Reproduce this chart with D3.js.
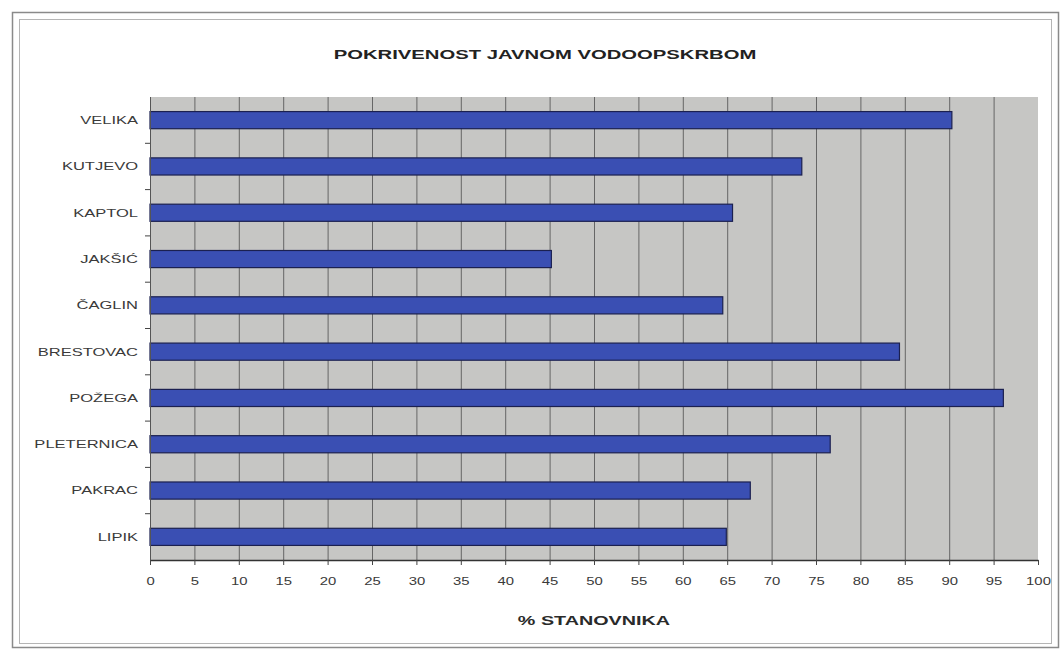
<!DOCTYPE html>
<html>
<head>
<meta charset="utf-8">
<script src="https://cdn.jsdelivr.net/npm/d3@7"></script>
<style>
  html, body { margin: 0; padding: 0; background: #fff; }
  svg { display: block; }
  text { font-family: "Liberation Sans", Arial, sans-serif; }
</style>
</head>
<body>
<svg id="chart" width="1062" height="650"></svg>
<script>
// Coverage of the public water supply per municipality (% of inhabitants)
const categories = ["VELIKA", "KUTJEVO", "KAPTOL", "JAKŠIĆ", "ČAGLIN", "BRESTOVAC", "POŽEGA", "PLETERNICA", "PAKRAC", "LIPIK"];
const values = [90.3, 73.4, 65.6, 45.2, 64.5, 84.4, 96.1, 76.6, 67.6, 64.9];
const xTicks = d3.range(0, 101, 5);
const titleText = "POKRIVENOST JAVNOM VODOOPSKRBOM";
const xAxisTitle = "% STANOVNIKA";

const W = 1062, H = 650;
const plot = { left: 150, right: 1038, top: 97, bottom: 560 };
const stretch = 1.5; // wide lettering of the printed chart

const svg = d3.select("#chart");

// helper: widen a text element horizontally while keeping it real text
function widen(sel, k) {
  sel.each(function () {
    const len = this.getComputedTextLength();
    d3.select(this).attr("textLength", len * k).attr("lengthAdjust", "spacingAndGlyphs");
  });
}

// double frame around the chart
svg.append("rect").attr("x", 12.5).attr("y", 12.5).attr("width", 1046).attr("height", 635)
  .attr("fill", "none").attr("stroke", "#8a8a8a").attr("stroke-width", 1.5);
svg.append("rect").attr("x", 19.5).attr("y", 19.5).attr("width", 1032).attr("height", 624)
  .attr("fill", "none").attr("stroke", "#b5b5b5").attr("stroke-width", 1);

const x = d3.scaleLinear().domain([0, 100]).range([plot.left, plot.right]);
const y = d3.scaleBand().domain(categories).range([plot.top, plot.bottom]).paddingInner(0.63).paddingOuter(0.315);
const yBand = d3.scaleBand().domain(categories).range([plot.top, plot.bottom]);

// plot background
svg.append("rect")
  .attr("x", plot.left).attr("y", plot.top)
  .attr("width", plot.right - plot.left).attr("height", plot.bottom - plot.top)
  .attr("fill", "#c6c6c4");

// vertical gridlines
svg.append("g").selectAll("line").data(xTicks.slice(1, -1)).join("line")
  .attr("x1", d => x(d) + 0.5).attr("x2", d => x(d) + 0.5)
  .attr("y1", plot.top).attr("y2", plot.bottom)
  .attr("stroke", "#666").attr("stroke-width", 1);

// bars
svg.append("g").selectAll("rect").data(categories).join("rect")
  .attr("x", x(0))
  .attr("y", d => y(d))
  .attr("width", (d, i) => x(values[i]) - x(0))
  .attr("height", y.bandwidth())
  .attr("fill", "#3a4fb3")
  .attr("stroke", "#1b2050")
  .attr("stroke-width", 1.2);

// x axis
const xAxis = svg.append("g")
  .attr("transform", `translate(0,${plot.bottom})`)
  .call(d3.axisBottom(x).tickValues(xTicks).tickSize(5).tickPadding(12).tickSizeOuter(0));
xAxis.select(".domain").attr("stroke", "#333").attr("stroke-width", 1.5);
xAxis.selectAll(".tick line").attr("stroke", "#444");
xAxis.selectAll(".tick text")
  .attr("font-family", "'Liberation Sans', Arial, sans-serif")
  .attr("font-size", 11).attr("fill", "#3a3a3a");
widen(xAxis.selectAll(".tick text"), 1.35);

// y axis: band-boundary ticks and category labels
const yAxisG = svg.append("g");
yAxisG.append("line")
  .attr("x1", plot.left + 0.5).attr("x2", plot.left + 0.5)
  .attr("y1", plot.top).attr("y2", plot.bottom)
  .attr("stroke", "#555").attr("stroke-width", 1);
yAxisG.selectAll("line.b").data(categories.slice(1)).join("line").attr("class", "b")
  .attr("x1", plot.left - 5).attr("x2", plot.left)
  .attr("y1", d => yBand(d)).attr("y2", d => yBand(d))
  .attr("stroke", "#444");
const yLabels = yAxisG.selectAll("text").data(categories).join("text")
  .attr("x", 138)
  .attr("y", d => yBand(d) + yBand.bandwidth() / 2)
  .attr("dy", "0.35em")
  .attr("text-anchor", "end")
  .attr("font-size", 11)
  .attr("fill", "#3a3a3a")
  .text(d => d);
widen(yLabels, stretch);

// title
const title = svg.append("text")
  .attr("x", 545)
  .attr("y", 59)
  .attr("text-anchor", "middle")
  .attr("font-size", 13.5).attr("font-weight", "bold").attr("fill", "#222")
  .text(titleText);
widen(title, 1.5);

// x axis title
const xt = svg.append("text")
  .attr("x", 594)
  .attr("y", 625)
  .attr("text-anchor", "middle")
  .attr("font-size", 13).attr("font-weight", "bold").attr("fill", "#2a2a2a")
  .text(xAxisTitle);
widen(xt, 1.52);
</script>
</body>
</html>
